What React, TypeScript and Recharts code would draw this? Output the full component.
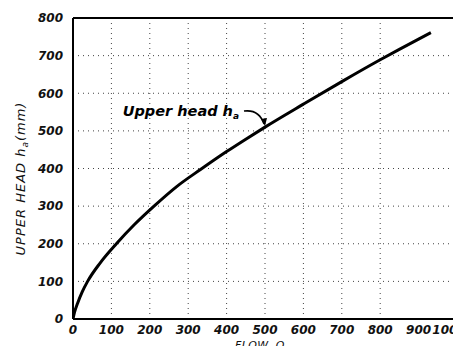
import React from "react";
import {
  LineChart,
  Line,
  XAxis,
  YAxis,
  CartesianGrid,
  ReferenceLine,
  ReferenceDot,
  Label,
} from "recharts";

const flow = [0, 4, 12, 24, 38, 70, 113, 160, 211, 270, 333, 400, 450, 500, 600, 700, 800, 900, 932];
const head = [0, 18, 42, 72, 100, 148, 200, 251, 300, 352, 398, 445, 478, 510, 571, 631, 689, 744, 761];
const xTicks = [0, 100, 200, 300, 400, 500, 600, 700, 800, 900, 1000];
const yTicks = [0, 100, 200, 300, 400, 500, 600, 700, 800];

const data = flow.map((q, i) => ({ q, h: head[i] }));

const FONT = "'DejaVu Sans', sans-serif";

const tickStyle = {
  fontFamily: FONT,
  fontStyle: "italic",
  fontWeight: 700,
  fontSize: 12,
  fill: "#111",
};

const AnnotationLabel = (props: any) => {
  const vb = props.viewBox || {};
  const cx = vb.x + (vb.width || 0) / 2;
  const cy = vb.y + (vb.height || 0) / 2;
  return (
    <g>
      <text
        x={cx - 26}
        y={cy - 11}
        textAnchor="end"
        fontFamily={FONT}
        fontStyle="italic"
        fontWeight={700}
        fontSize={14.5}
        fill="#000"
      >
        Upper head h
        <tspan fontSize={9} dy={3}>a</tspan>
      </text>
      <path
        d={`M ${cx - 21} ${cy - 16} Q ${cx - 6} ${cy - 18} ${cx - 1} ${cy - 3}`}
        fill="none"
        stroke="#000"
        strokeWidth={1.5}
      />
      <path
        d={`M ${cx - 4} ${cy - 8} L ${cx} ${cy - 1} L ${cx + 2} ${cy - 9} Z`}
        fill="#000"
      />
    </g>
  );
};

const YLabel = (props: any) => {
  const vb = props.viewBox || {};
  const cx = 25;
  const cy = vb.y + vb.height / 2 + 10;
  return (
    <text
      transform={`translate(${cx}, ${cy}) rotate(-90)`}
      textAnchor="middle"
      fontFamily={FONT}
      fontStyle="italic"
      fontSize={13}
      letterSpacing={1}
      fill="#111"
    >
      UPPER HEAD h
      <tspan fontSize={9} dy={3}>a</tspan>
      <tspan dy={-3}>(mm)</tspan>
    </text>
  );
};

const XLabel = (props: any) => {
  const vb = props.viewBox || {};
  return (
    <text
      x={vb.x + vb.width / 2 - 5}
      y={349}
      textAnchor="middle"
      fontFamily={FONT}
      fontStyle="italic"
      fontSize={11}
      letterSpacing={0.5}
      fill="#111"
    >
      FLOW, Q
    </text>
  );
};

export default function App() {
  return (
    <div style={{ margin: -8, width: 461, height: 354, background: "#fff", overflow: "hidden" }}>
      <LineChart
        width={461}
        height={354}
        data={data}
        margin={{ top: 18, right: 4, left: 0, bottom: 0 }}
      >
        <CartesianGrid stroke="#444" strokeDasharray="1 4" strokeWidth={1} />
        <XAxis
          type="number"
          dataKey="q"
          domain={[0, 1000]}
          ticks={xTicks}
          height={35}
          tick={tickStyle}
          tickLine={false}
          axisLine={{ stroke: "#000", strokeWidth: 2 }}
          tickMargin={0}
          allowDataOverflow
        >
          <Label content={<XLabel />} />
        </XAxis>
        <YAxis
          type="number"
          domain={[0, 800]}
          ticks={yTicks}
          width={73}
          tick={tickStyle}
          tickLine={false}
          axisLine={{ stroke: "#000", strokeWidth: 2 }}
          tickMargin={4}
        >
          <Label content={<YLabel />} />
        </YAxis>
        <ReferenceLine y={800} stroke="#000" strokeWidth={2} />
        <ReferenceLine x={1000} stroke="#000" strokeWidth={2} />
        <Line
          type="monotone"
          dataKey="h"
          stroke="#000"
          strokeWidth={3}
          dot={false}
          isAnimationActive={false}
        />
        <ReferenceDot x={500} y={510} r={0} stroke="none" fill="none">
          <Label content={<AnnotationLabel />} />
        </ReferenceDot>
      </LineChart>
    </div>
  );
}
